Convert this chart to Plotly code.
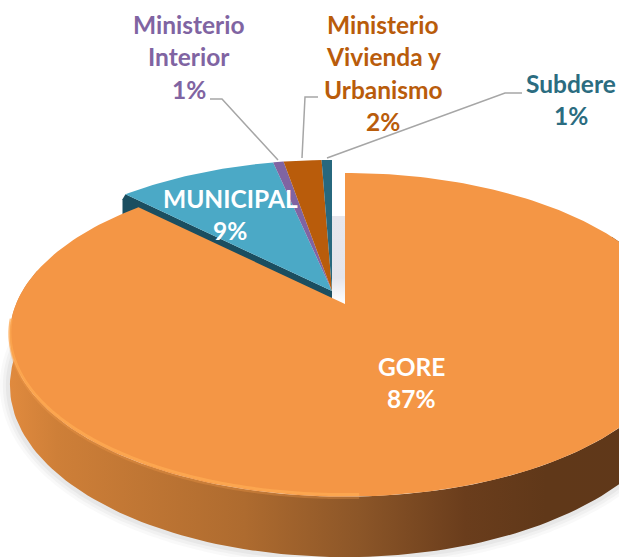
import math
import plotly.graph_objects as go

# ---- data ----
categories = ["GORE", "MUNICIPAL", "Ministerio Interior", "Ministerio Vivienda y Urbanismo", "Subdere"]
values = [87.4, 9.2, 0.6, 2.2, 0.6]
label_lines = [["GORE"], ["MUNICIPAL"], ["Ministerio", "Interior"], ["Ministerio", "Vivienda y", "Urbanismo"], ["Subdere"]]
top_colors = ["#F49645", "#4BA9C6", "#8064A2", "#B95C0B", "#27687E"]
text_colors = ["#FFFFFF", "#FFFFFF", "#8064A2", "#B95C0B", "#2B6C80"]
label_x = [411, 230, 189, 383, 571]
label_y = [366, 198, 24, 24, 83]
line_gap = 32.5

# ---- projection of the tilted disc ----
CX, CY = 345, 304
KP, AY, BX = 0.19, 156, 329
DEPTH = 49
EXPLODE = (-13, -13)


def project(theta, r=1.0, off=(0, 0)):
    u, v = r * math.sin(theta), r * math.cos(theta)
    w = 1 + KP * v
    return CX + off[0] + BX * u / w, CY + off[1] - AY * v / w, DEPTH / w


def arc(a0, a1, off=(0, 0), n=120):
    return [project(a0 + (a1 - a0) * i / n, 1.0, off) for i in range(n + 1)]


edges = [0]
for val in values:
    edges.append(edges[-1] + val)
total = edges[-1]
angles = [2 * math.pi * e / total for e in edges]

fig = go.Figure()


def poly(pts, color=None, gradient=None):
    xs = [p[0] for p in pts] + [pts[0][0]]
    ys = [p[1] for p in pts] + [pts[0][1]]
    kw = dict(x=xs, y=ys, mode="lines", line=dict(width=0), fill="toself", hoverinfo="skip", showlegend=False)
    if gradient:
        kw["fillgradient"] = gradient
    else:
        kw["fillcolor"] = color
    fig.add_trace(go.Scatter(**kw))


def stroke(pts, color, width):
    fig.add_trace(go.Scatter(x=[p[0] for p in pts], y=[p[1] for p in pts], mode="lines",
                             line=dict(color=color, width=width, shape="spline"), hoverinfo="skip", showlegend=False))


# exploded group: apex, radial wall of the municipal slice
off = EXPLODE
apex = (CX + off[0], CY + off[1])

# light inner face visible in the gap
a_x0, a_x1 = apex[0], CX
poly([(a_x0, CY - 88), (a_x1, CY - 88), (a_x1, CY), (a_x0, CY - 6)],
     gradient=dict(type="vertical", colorscale=[[0, "#FFFFFF"], [0.3, "#E4E4EA"], [1, "#E6E6EC"]]))

m_start = project(angles[1], 1.0, off)
poly([(apex[0], apex[1]), (m_start[0], m_start[1]), (m_start[0] - 3, m_start[1] + 5), (m_start[0] - 3, m_start[1] + 20),
      (apex[0], apex[1] + 20)], color="#1B4E60")

# exploded top faces
for i in range(1, len(values)):
    pts = [apex] + [p[:2] for p in arc(angles[i], angles[i + 1], off, 40)]
    poly(pts, color=top_colors[i])

# soft shadow under the wall of the big slice
wall_top = arc(math.radians(62), math.radians(283), (0, 0), 160)
wall_bot = [(p[0], p[1] + p[2]) for p in wall_top]
for w, c in [(20, "rgba(90,90,90,0.035)"), (14, "rgba(90,90,90,0.05)"), (8, "rgba(90,90,90,0.06)")]:
    stroke(wall_bot, c, w)

# outer wall with horizontal shading
poly(wall_top + wall_bot[::-1], gradient=dict(type="horizontal", colorscale=[
    [0.0, "#E08A3E"], [0.07, "#CE7F38"], [0.35, "#AE6B2F"], [0.52, "#8C5628"],
    [0.68, "#6A3D1C"], [0.8, "#603819"], [1.0, "#60381A"]]))

# big slice top face and its bright rim
pts0 = [(CX, CY)] + [p[:2] for p in arc(angles[0], angles[1], (0, 0), 240)]
poly(pts0, color=top_colors[0])
rim = arc(math.radians(178), math.radians(264), (0, 0), 100)
stroke([(p[0], p[1] - 2) for p in rim], "rgba(255,172,84,0.7)", 3)
stroke([(p[0], p[1] + 1) for p in rim], "rgba(250,160,75,0.3)", 3)

# leader lines
leader_color = "#A6A6A6"
leaders = [([210, 222, 278], [99, 99, 160]), ([318, 305, 302], [97, 97, 158]), ([522, 505, 327], [93, 93, 158])]
for lx, ly in leaders:
    fig.add_trace(go.Scatter(x=lx, y=ly, mode="lines", line=dict(color=leader_color, width=1.5),
                             hoverinfo="skip", showlegend=False))

# labels
annotations = []
for i, lines in enumerate(label_lines):
    pct = f"{round(values[i])}%"
    for j, t in enumerate(lines + [pct]):
        annotations.append(dict(x=label_x[i], y=label_y[i] + j * line_gap, text=f"<b>{t}</b>", showarrow=False,
                                xref="x", yref="y", xanchor="center", yanchor="middle",
                                font=dict(family="Lato, Carlito, sans-serif", size=24.5, color=text_colors[i])))

fig.update_layout(
    width=619, height=557, margin=dict(l=0, r=0, t=0, b=0),
    paper_bgcolor="white", plot_bgcolor="white", showlegend=False, annotations=annotations,
    xaxis=dict(range=[0, 619], visible=False, fixedrange=True),
    yaxis=dict(range=[557, 0], visible=False, fixedrange=True),
)
fig.write_html("out.html", config={"displayModeBar": False},
               post_script="document.body.style.margin='0';document.documentElement.style.overflow='hidden';")
